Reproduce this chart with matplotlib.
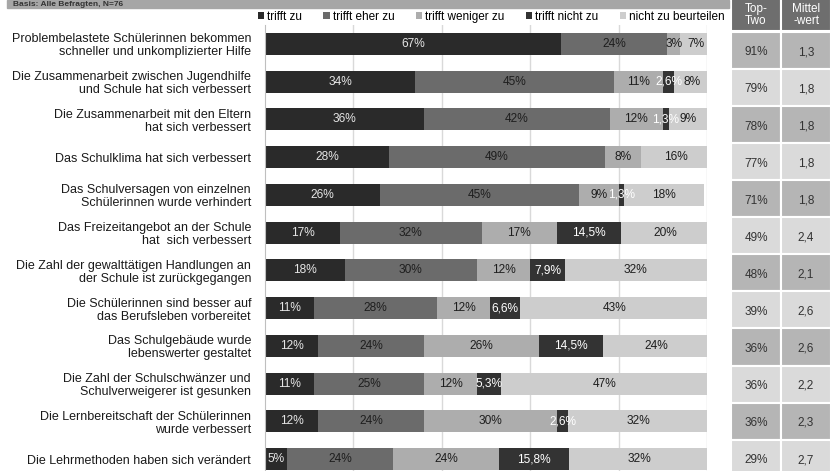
import matplotlib
matplotlib.use("Agg")
import matplotlib.pyplot as plt
from matplotlib.patches import Rectangle, Patch
import numpy as np

plt.rcParams['font.family'] = ['Liberation Sans', 'DejaVu Sans']

statements = [
    "Problembelastete Schülerinnen bekommen\nschneller und unkomplizierter Hilfe",
    "Die Zusammenarbeit zwischen Jugendhilfe\nund Schule hat sich verbessert",
    "Die Zusammenarbeit mit den Eltern\nhat sich verbessert",
    "Das Schulklima hat sich verbessert",
    "Das Schulversagen von einzelnen\nSchülerinnen wurde verhindert",
    "Das Freizeitangebot an der Schule\nhat  sich verbessert",
    "Die Zahl der gewalttätigen Handlungen an\nder Schule ist zurückgegangen",
    "Die Schülerinnen sind besser auf\ndas Berufsleben vorbereitet",
    "Das Schulgebäude wurde\nlebenswerter gestaltet",
    "Die Zahl der Schulschwänzer und\nSchulverweigerer ist gesunken",
    "Die Lernbereitschaft der Schülerinnen\nwurde verbessert",
    "Die Lehrmethoden haben sich verändert",
]

series_names = ["trifft zu", "trifft eher zu", "trifft weniger zu",
                "trifft nicht zu", "nicht zu beurteilen"]
trifft_zu = [67, 34, 36, 28, 26, 17, 18, 11, 12, 11, 12, 5]
trifft_eher_zu = [24, 45, 42, 49, 45, 32, 30, 28, 24, 25, 24, 24]
trifft_weniger_zu = [3, 11, 12, 8, 9, 17, 12, 12, 26, 12, 30, 24]
trifft_nicht_zu = [0, 2.6, 1.3, 0, 1.3, 14.5, 7.9, 6.6, 14.5, 5.3, 2.6, 15.8]
nicht_zu_beurteilen = [7, 8, 9, 16, 18, 20, 32, 43, 24, 47, 32, 32]

top_two = [91, 79, 78, 77, 71, 49, 48, 39, 36, 36, 36, 29]
mittelwert = [1.3, 1.8, 1.8, 1.8, 1.8, 2.4, 2.1, 2.6, 2.6, 2.2, 2.3, 2.7]
table_headers = ["Top-\nTwo", "Mittel\n-wert"]
basis_text = "Basis: Alle Befragten, N=76"

bar_colors = ["#2a2a2a", "#6b6b6b", "#adadad", "#333333", "#cdcdcd"]
text_colors = ["#e6e6e6", "#1e1e1e", "#1e1e1e", "#ffffff", "#1e1e1e"]


def fmt_pct(v):
    if float(v).is_integer():
        return f"{int(v)}%"
    return f"{v:.1f}".replace(".", ",") + "%"


W, H = 835, 471
fig = plt.figure(figsize=(W / 100, H / 100), dpi=100)
fig.patch.set_facecolor("white")

# header strip with the sample note
fig.patches.append(Rectangle((7 / W, 1 - 8 / H), 722 / W, 8 / H,
                             transform=fig.transFigure, color="#a6a6a6",
                             zorder=0))
fig.text(13 / W, 1 - 4 / H, basis_text, fontsize=6, fontweight="bold",
         color="#333333", va="center", ha="left")

# stacked bar chart
ax = fig.add_axes([265 / W, 1 - 478 / H, 442 / W, 453 / H])
y = np.arange(len(statements))
series = [trifft_zu, trifft_eher_zu, trifft_weniger_zu, trifft_nicht_zu,
          nicht_zu_beurteilen]
left = np.zeros(len(statements))
for name, vals, col, tcol in zip(series_names, series, bar_colors, text_colors):
    vals = np.asarray(vals, dtype=float)
    ax.barh(y, vals, left=left, height=0.58, color=col, label=name,
            edgecolor="none", zorder=2)
    for yi, (l, v) in enumerate(zip(left, vals)):
        if v > 0:
            ax.text(l + v / 2, yi, fmt_pct(v), ha="center", va="center",
                    fontsize=8.6, color=tcol, zorder=3)
    left += vals

ax.set_xlim(0, 100)
ax.set_ylim(len(statements) - 0.5, -0.5)
ax.set_xticks([20, 40, 60, 80, 100])
ax.grid(axis="x", color="#d9d9d9", linewidth=1.0, zorder=0)
ax.set_axisbelow(True)
ax.tick_params(axis="x", length=0, labelbottom=False)
ax.set_yticks(y)
ax.set_yticklabels(statements, fontsize=9, color="#1a1a1a", linespacing=1.1)
ax.tick_params(axis="y", length=0, pad=10)
for s in ["top", "right", "bottom"]:
    ax.spines[s].set_visible(False)
ax.spines["left"].set_color("#bfbfbf")

handles = [Patch(facecolor=c, edgecolor="none") for c in bar_colors]
fig.legend(handles, series_names, loc="center right",
           bbox_to_anchor=(725 / W, 1 - 17 / H), ncol=5, frameon=False,
           fontsize=8.5, handlelength=0.55, handleheight=0.55,
           handletextpad=0.25, columnspacing=1.8, borderpad=0,
           borderaxespad=0)

# side table: Top-Two and mean value
n = len(statements)
tab = fig.add_axes([731 / W, 1 - (32 + 37.06 * n) / H, 100 / W, 37.06 * n / H])
tab.set_xlim(0, 2)
tab.set_ylim(n, 0)
tab.axis("off")
for i in range(n):
    fc = "#b5b5b5" if i % 2 == 0 else "#dadada"
    for j, txt in enumerate([f"{top_two[i]}%",
                             f"{mittelwert[i]:.1f}".replace(".", ",")]):
        tab.add_patch(Rectangle((j, i), 1, 1, facecolor=fc,
                                edgecolor="white", linewidth=1.5))
        tab.text(j + 0.5, i + 0.55, txt, ha="center", va="center",
                 fontsize=8.5, color="#333333")

hdr = fig.add_axes([731 / W, 1 - 31 / H, 100 / W, 31 / H])
hdr.set_xlim(0, 2)
hdr.set_ylim(1, 0)
hdr.axis("off")
for j, txt in enumerate(table_headers):
    hdr.add_patch(Rectangle((j, -0.2), 1, 1.2, facecolor="#6e6e6e",
                            edgecolor="white", linewidth=1.5))
    hdr.text(j + 0.5, 0.47, txt, ha="center", va="center", fontsize=8.5,
             color="white", linespacing=1.0)

fig.savefig("out.png", dpi=100)
